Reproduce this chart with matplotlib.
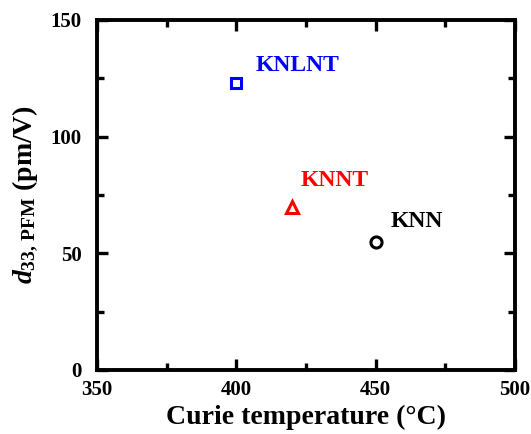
import matplotlib
matplotlib.use("Agg")
import matplotlib.pyplot as plt
from matplotlib.ticker import MultipleLocator

plt.rcParams['font.family'] = 'Liberation Serif'
plt.rcParams['font.weight'] = 'bold'
plt.rcParams['mathtext.fontset'] = 'custom'
plt.rcParams['mathtext.rm'] = 'Liberation Serif:bold'
plt.rcParams['mathtext.it'] = 'Liberation Serif:italic:bold'
plt.rcParams['mathtext.bf'] = 'Liberation Serif:bold'

materials = ["KNLNT", "KNNT", "KNN"]
curie_temp = [400, 420, 450]
d33 = [123, 70, 55]
colors = ["#0000ff", "#ff0000", "#000000"]
markers = ["s", "^", "o"]
marker_sizes = [7, 8.5, 8]
label_offsets = [(14, 5), (6, 11), (11, 7)]

fig = plt.figure(figsize=(5.31, 4.34), dpi=100)
ax = fig.add_axes([0.183, 0.1475, 0.787, 0.8065])

for name, x, y, c, m, ms, off in zip(materials, curie_temp, d33, colors, markers, marker_sizes, label_offsets):
    ax.plot(x, y, marker=m, linestyle='none', markersize=ms, markerfacecolor='none',
            markeredgecolor=c, markeredgewidth=2.2)
    ax.annotate(name, (x, y), xytext=off, textcoords='offset points', color=c,
                fontsize=17, fontweight='bold', ha='left', va='bottom')

ax.set_xlim(350, 500)
ax.set_ylim(0, 150)
ax.xaxis.set_major_locator(MultipleLocator(50))
ax.xaxis.set_minor_locator(MultipleLocator(25))
ax.yaxis.set_major_locator(MultipleLocator(50))
ax.yaxis.set_minor_locator(MultipleLocator(25))

for s in ax.spines.values():
    s.set_linewidth(2.8)
ax.tick_params(which='both', direction='in', top=True, right=True, width=2.4, labelsize=15)
ax.tick_params(which='major', length=8)
ax.tick_params(which='minor', length=5)
ax.tick_params(axis='x', pad=7)
ax.tick_params(axis='y', pad=11)
for lab in ax.get_xticklabels() + ax.get_yticklabels():
    lab.set_fontweight('bold')

ax.set_xlabel('Curie temperature (°C)', fontsize=20, fontweight='bold', labelpad=4)
ax.set_ylabel(r'$d_{\mathrm{33,\,PFM}}$ (pm/V)', fontsize=20, fontweight='bold', labelpad=8)

fig.savefig("out.png", dpi=100)
